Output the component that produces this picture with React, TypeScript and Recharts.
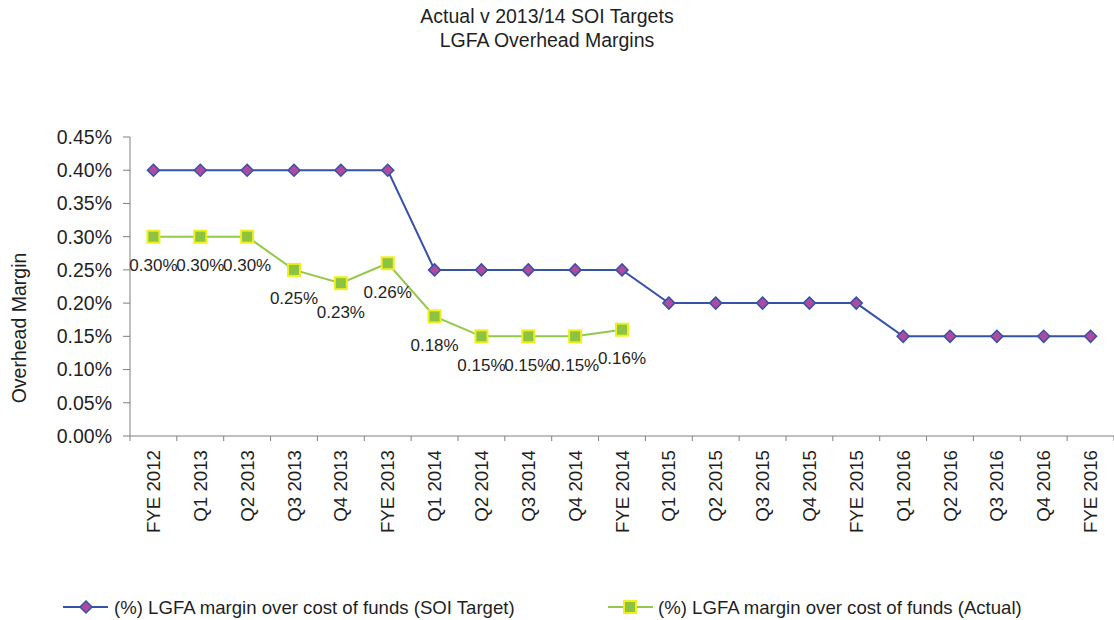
import React from 'react';
import { LineChart, Line, XAxis, YAxis, Legend, LabelList } from 'recharts';

const categories = [
  'FYE 2012', 'Q1 2013', 'Q2 2013', 'Q3 2013', 'Q4 2013', 'FYE 2013',
  'Q1 2014', 'Q2 2014', 'Q3 2014', 'Q4 2014', 'FYE 2014',
  'Q1 2015', 'Q2 2015', 'Q3 2015', 'Q4 2015', 'FYE 2015',
  'Q1 2016', 'Q2 2016', 'Q3 2016', 'Q4 2016', 'FYE 2016',
];
const soiTarget = [0.4, 0.4, 0.4, 0.4, 0.4, 0.4, 0.25, 0.25, 0.25, 0.25, 0.25, 0.2, 0.2, 0.2, 0.2, 0.2, 0.15, 0.15, 0.15, 0.15, 0.15];
const actual: (number | null)[] = [0.3, 0.3, 0.3, 0.25, 0.23, 0.26, 0.18, 0.15, 0.15, 0.15, 0.16, null, null, null, null, null, null, null, null, null, null];
const yTicks = [0, 0.05, 0.1, 0.15, 0.2, 0.25, 0.3, 0.35, 0.4, 0.45];

const targetName = '(%) LGFA margin over cost of funds (SOI Target)';
const actualName = '(%) LGFA margin over cost of funds (Actual)';

const data = categories.map((c, i) => ({ name: c, target: soiTarget[i], actual: actual[i] }));

const FONT = '"Liberation Sans", Arial, sans-serif';
const TEXT = '#1f1f1f';
const AXIS = '#7f7f7f';
const BLUE = '#3652a8';
const PURPLE = '#b04a9e';
const GREEN = '#92c84b';
const GREEN_FILL = '#8cc441';
const YELLOW = '#f0ef1c';
const TICK_SIZE = 5;
const TICK_MARGIN = 9;

const fmt = (v: number) => v.toFixed(2) + '%';

const Diamond = (props: any) => {
  const { cx, cy } = props;
  if (cx == null || cy == null) return null;
  const r = 6;
  return (
    <path
      d={`M${cx},${cy - r}L${cx + r},${cy}L${cx},${cy + r}L${cx - r},${cy}Z`}
      fill={PURPLE}
      stroke={BLUE}
      strokeWidth={1.5}
    />
  );
};

const Square = (props: any) => {
  const { cx, cy, payload } = props;
  if (cx == null || cy == null || payload?.actual == null) return null;
  const s = 6;
  return <rect x={cx - s} y={cy - s} width={2 * s} height={2 * s} fill={GREEN_FILL} stroke={YELLOW} strokeWidth={2} />;
};

const XTick = (props: any) => {
  const { x, y, payload, index, visibleTicksCount } = props;
  const half = payload?.offset ?? 0;
  const axisY = y - TICK_SIZE - TICK_MARGIN;
  const left = payload.coordinate - half;
  const right = payload.coordinate + half;
  return (
    <g>
      <line x1={left} x2={left} y1={axisY} y2={axisY + TICK_SIZE} stroke={AXIS} strokeWidth={1} />
      {index === visibleTicksCount - 1 && (
        <line x1={right} x2={right} y1={axisY} y2={axisY + TICK_SIZE} stroke={AXIS} strokeWidth={1} />
      )}
      <text
        x={x}
        y={y}
        transform={`rotate(-90, ${x}, ${y})`}
        textAnchor="end"
        dominantBaseline="central"
        fontFamily={FONT}
        fontSize={18.7}
        fill={TEXT}
      >
        {payload.value}
      </text>
    </g>
  );
};

const DataLabel = (props: any) => {
  const { x, y, value } = props;
  if (value == null || x == null || y == null) return null;
  return (
    <text x={x} y={y + 29} textAnchor="middle" dominantBaseline="central" fontFamily={FONT} fontSize={17} fill={TEXT}>
      {fmt(value)}
    </text>
  );
};

const YLabel = (props: any) => {
  const vb = props.viewBox || { x: 0, y: 0 };
  const cx = vb.x + 19;
  const cy = vb.y + 191;
  return (
    <text
      x={cx}
      y={cy}
      transform={`rotate(-90, ${cx}, ${cy})`}
      textAnchor="middle"
      dominantBaseline="central"
      fontFamily={FONT}
      fontSize={19.5}
      fill={TEXT}
    >
      Overhead Margin
    </text>
  );
};

const LegendContent = () => (
  <svg width={1114} height={30} style={{ display: 'block' }}>
    <g>
      <line x1={63} x2={108} y1={15} y2={15} stroke={BLUE} strokeWidth={2} />
      <Diamond cx={86} cy={15} />
      <text x={114} y={15} dominantBaseline="central" fontFamily={FONT} fontSize={18.6} fill={TEXT}>
        {targetName}
      </text>
    </g>
    <g>
      <line x1={608} x2={653} y1={15} y2={15} stroke={GREEN} strokeWidth={2} />
      <Square cx={630} cy={15} payload={{ actual: 1 }} />
      <text x={658} y={15} dominantBaseline="central" fontFamily={FONT} fontSize={18.6} fill={TEXT}>
        {actualName}
      </text>
    </g>
  </svg>
);

export default function App() {
  return (
    <div style={{ position: 'absolute', left: 0, top: 0, width: 1114, height: 620, background: '#fff' }}>
      <LineChart width={1114} height={620} data={data} margin={{ top: 137, right: 0, bottom: 0, left: 0 }}>
        <text x={547} y={23} textAnchor="middle" fontFamily={FONT} fontSize={19.5} fill={TEXT}>
          Actual v 2013/14 SOI Targets
        </text>
        <text x={547} y={47} textAnchor="middle" fontFamily={FONT} fontSize={19.5} fill={TEXT}>
          LGFA Overhead Margins
        </text>
        <XAxis
          dataKey="name"
          scale="band"
          interval={0}
          height={154}
          axisLine={{ stroke: AXIS, strokeWidth: 1 }}
          tickLine={false}
          tickSize={TICK_SIZE}
          tickMargin={TICK_MARGIN}
          tick={<XTick />}
        />
        <YAxis
          width={130}
          domain={[0, 0.45]}
          ticks={yTicks}
          interval={0}
          tickFormatter={fmt}
          axisLine={{ stroke: AXIS, strokeWidth: 1 }}
          tickLine={{ stroke: AXIS, strokeWidth: 1 }}
          tickSize={7}
          tickMargin={11}
          tick={{ fontFamily: FONT, fontSize: 19.5, fill: TEXT }}
          label={<YLabel />}
        />
        <Legend
          verticalAlign="bottom"
          content={<LegendContent />}
          wrapperStyle={{ position: 'absolute', left: 0, top: 592, width: 1114, height: 30 }}
        />
        <Line
          type="linear"
          dataKey="target"
          name={targetName}
          stroke={BLUE}
          strokeWidth={2}
          dot={<Diamond />}
          activeDot={false}
          isAnimationActive={false}
        />
        <Line
          type="linear"
          dataKey="actual"
          name={actualName}
          stroke={GREEN}
          strokeWidth={2}
          dot={<Square />}
          activeDot={false}
          isAnimationActive={false}
        >
          <LabelList dataKey="actual" content={<DataLabel />} />
        </Line>
      </LineChart>
    </div>
  );
}
